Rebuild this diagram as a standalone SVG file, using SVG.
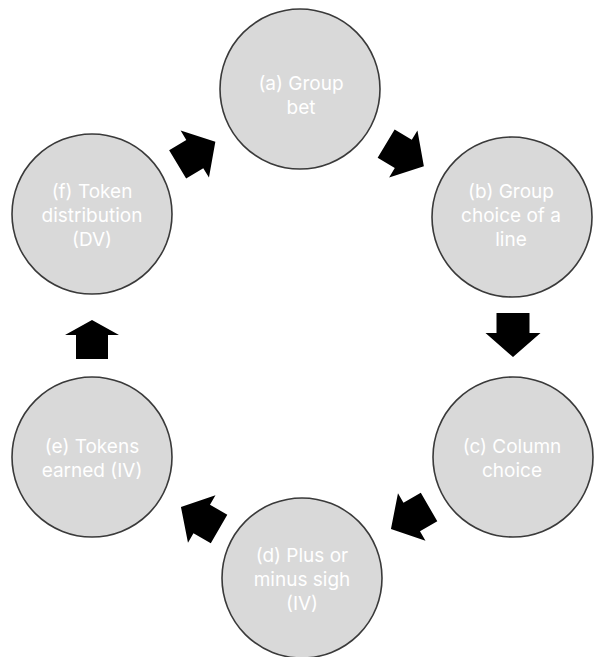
<svg xmlns="http://www.w3.org/2000/svg" width="594" height="657" viewBox="0 0 594 657">
<style>
.node circle{fill:#d9d9d9;stroke:#3a3a3a;stroke-width:1.6}
.node text{fill:#ffffff;font-family:Inter,"Open Sans","DejaVu Sans",sans-serif;font-size:19px;text-anchor:middle}
.arr{fill:#000000}
</style>
<defs>
<polygon id="blk" points="-22,-16.5 -2,-16.5 -2,-27.5 22,0 -2,27.5 -2,16.5 -22,16.5"/>
</defs>
<rect width="594" height="657" fill="#ffffff"/>
<g id="connectors" class="arr">
<use href="#blk" transform="translate(196.5,153) rotate(-31)"/>
<use href="#blk" transform="translate(405,155) rotate(31)"/>
<use href="#blk" transform="translate(513,335) rotate(90)"/>
<use href="#blk" transform="translate(410,518) rotate(150)"/>
<use href="#blk" transform="translate(200,518) rotate(210)"/>
<polygon points="76,359 108,359 108,335 119,335 92,320 65,335 76,335"/>
</g>
<g id="node-a" class="node">
<circle cx="300" cy="89" r="80"/>
<text x="301" y="90">(a) Group</text>
<text x="301" y="114">bet</text>
</g>
<g id="node-b" class="node">
<circle cx="512" cy="217" r="80"/>
<text x="511" y="198">(b) Group</text>
<text x="511" y="222">choice of a</text>
<text x="511" y="246">line</text>
</g>
<g id="node-c" class="node">
<circle cx="513" cy="457" r="80"/>
<text x="512" y="453">(c) Column</text>
<text x="512" y="477">choice</text>
</g>
<g id="node-d" class="node">
<circle cx="302" cy="578" r="80"/>
<text x="302" y="562">(d) Plus or</text>
<text x="302" y="586">minus sigh</text>
<text x="302" y="610">(IV)</text>
</g>
<g id="node-e" class="node">
<circle cx="92" cy="457" r="80"/>
<text x="92" y="453">(e) Tokens</text>
<text x="92" y="477">earned (IV)</text>
</g>
<g id="node-f" class="node">
<circle cx="92" cy="214" r="80"/>
<text x="92" y="198">(f) Token</text>
<text x="92" y="222">distribution</text>
<text x="92" y="246">(DV)</text>
</g>
</svg>
